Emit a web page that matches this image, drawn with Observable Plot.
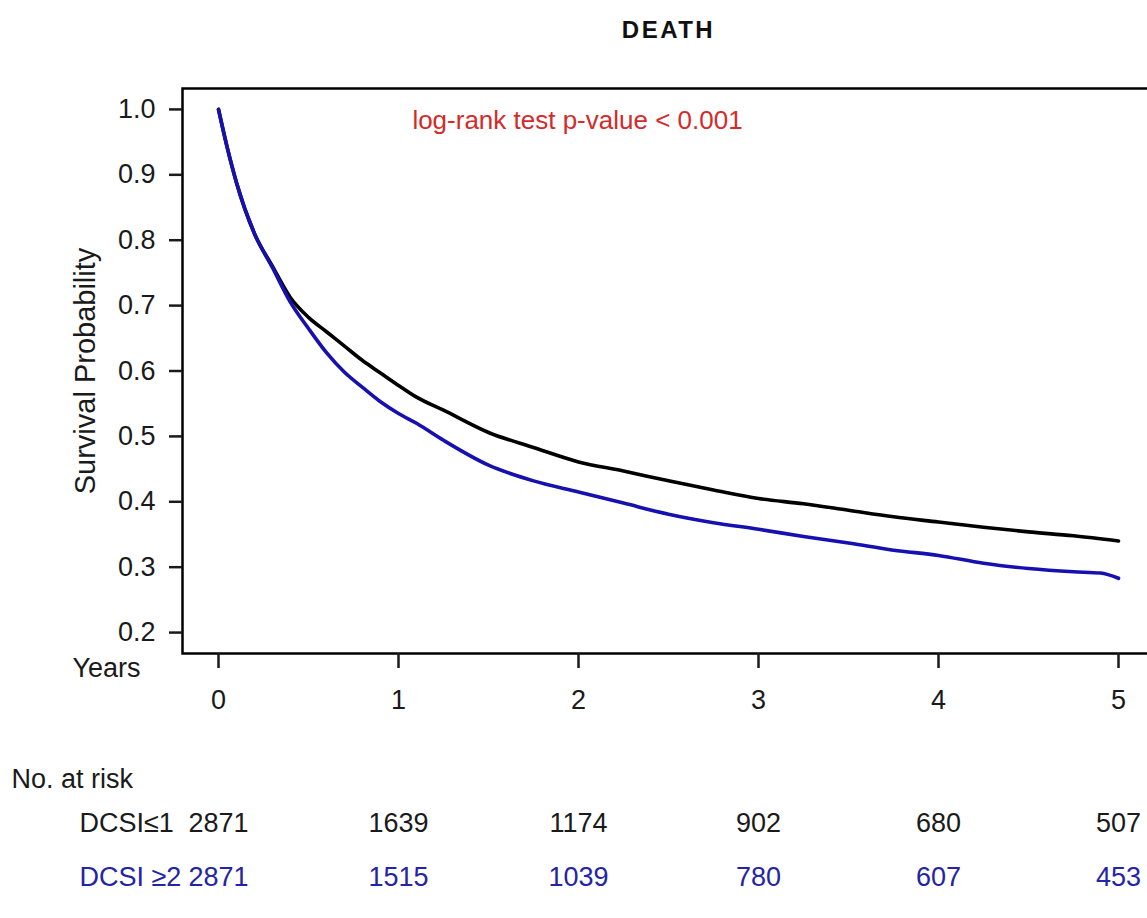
<!DOCTYPE html>
<html><head><meta charset="utf-8">
<script src="https://cdn.jsdelivr.net/npm/d3@7"></script>
<script src="https://cdn.jsdelivr.net/npm/@observablehq/plot@0.6"></script>
<style>
body{margin:0;background:#fff;font-family:Arial,"Liberation Sans",sans-serif;}
#wrap{width:1147px;height:918px;overflow:hidden;position:relative;background:#fff;}
#title{position:absolute;left:183px;width:971px;top:13px;text-align:center;font-weight:bold;font-size:24px;letter-spacing:2.5px;line-height:34px;color:#111;}
#chart{position:absolute;top:60px;left:0;}
</style></head><body>
<div id="wrap"><div id="title">DEATH</div><div id="chart"></div></div>
<script>
// Kaplan-Meier estimates
const timeLow  = [0, 0.05, 0.1, 0.2, 0.3, 0.4, 0.5, 0.6, 0.7, 0.8, 0.9, 1.0, 1.1, 1.25, 1.5, 1.75, 2.0, 2.25, 2.5, 2.75, 3.0, 3.25, 3.5, 3.75, 4.0, 4.25, 4.5, 4.75, 5.0];
const survLow  = [1.0, 0.94, 0.888, 0.81, 0.76, 0.712, 0.682, 0.66, 0.638, 0.616, 0.597, 0.578, 0.56, 0.54, 0.506, 0.483, 0.461, 0.447, 0.432, 0.418, 0.405, 0.397, 0.387, 0.377, 0.369, 0.361, 0.354, 0.348, 0.340];
const timeHigh = [0, 0.05, 0.1, 0.2, 0.3, 0.4, 0.5, 0.6, 0.7, 0.8, 0.9, 1.0, 1.1, 1.25, 1.5, 1.75, 2.0, 2.25, 2.5, 2.75, 3.0, 3.25, 3.5, 3.75, 4.0, 4.25, 4.5, 4.75, 4.9, 5.0];
const survHigh = [1.0, 0.94, 0.888, 0.81, 0.758, 0.705, 0.665, 0.628, 0.598, 0.575, 0.553, 0.535, 0.52, 0.494, 0.456, 0.432, 0.415, 0.398, 0.381, 0.368, 0.358, 0.347, 0.337, 0.326, 0.318, 0.306, 0.298, 0.293, 0.291, 0.283];

const riskTimes = [0, 1, 2, 3, 4, 5];
const riskLow   = [2871, 1639, 1174, 902, 680, 507];
const riskHigh  = [2871, 1515, 1039, 780, 607, 453];
const groupLabels = ["DCSI\u22641", "DCSI \u22652"];

const xTicks = [0, 1, 2, 3, 4, 5];
const yTicks = [0.2, 0.3, 0.4, 0.5, 0.6, 0.7, 0.8, 0.9, 1.0];
const yLabel = "Survival Probability";
const xLabel = "Years";
const riskTitle = "No. at risk";
const annotation = "log-rank test p-value < 0.001";

const colLow = "#000000";
const colHigh = "#1710b0";
const colHighText = "#2424a6";

const low = timeLow.map((t, i) => ({t, s: survLow[i]}));
const high = timeHigh.map((t, i) => ({t, s: survHigh[i]}));
const risk = riskTimes.map((t, i) => ({t, low: riskLow[i], high: riskHigh[i]}));

const font = 'Arial, "Liberation Sans", sans-serif';

const plot = Plot.plot({
  width: 1147, height: 858,
  marginLeft: 182, marginRight: -7, marginTop: 28, marginBottom: 265,
  style: {fontFamily: font, fontSize: "27px", background: "white", color: "#1a1a1a"},
  x: {domain: [-0.2, 5.2]},
  y: {domain: [0.168, 1.032]},
  marks: [
    Plot.frame({stroke: "#000", strokeWidth: 2.5}),
    Plot.axisY({ticks: yTicks, tickFormat: d3.format(".1f"), tickSize: 13, tickPadding: 14, strokeWidth: 2.5, label: null, fontSize: 27}),
    Plot.axisX({ticks: xTicks, tickFormat: d => String(d), tickSize: 15, tickPadding: 21, strokeWidth: 2.5, label: null, fontSize: 27}),
    Plot.line(low, {x: "t", y: "s", stroke: colLow, strokeWidth: 3.6, curve: "monotone-x"}),
    Plot.line(high, {x: "t", y: "s", stroke: colHigh, strokeWidth: 3.6, curve: "monotone-x"}),
    Plot.text([yLabel], {frameAnchor: "left", textAnchor: "middle", dx: -97, rotate: -90, fontSize: 29}),
    Plot.text([annotation], {frameAnchor: "top-left", textAnchor: "middle", dx: 395, dy: 22, fill: "#d42a2a", fontSize: 26}),
    Plot.text([xLabel], {frameAnchor: "bottom-left", textAnchor: "end", dx: -42, dy: 23, fontSize: 27}),
    Plot.text([riskTitle], {frameAnchor: "bottom-left", textAnchor: "start", dx: -171, dy: 134, fontSize: 27}),
    Plot.text([groupLabels[0]], {frameAnchor: "bottom-left", textAnchor: "start", dx: -103, dy: 178, fontSize: 27}),
    Plot.text([groupLabels[1]], {frameAnchor: "bottom-left", textAnchor: "start", dx: -103, dy: 232, fontSize: 27, fill: colHighText}),
    Plot.text(risk, {x: "t", text: d => String(d.low), frameAnchor: "bottom", dy: 178, fontSize: 27}),
    Plot.text(risk, {x: "t", text: d => String(d.high), frameAnchor: "bottom", dy: 232, fontSize: 27, fill: colHighText})
  ]
});
document.getElementById("chart").appendChild(plot);
</script>
</body></html>
